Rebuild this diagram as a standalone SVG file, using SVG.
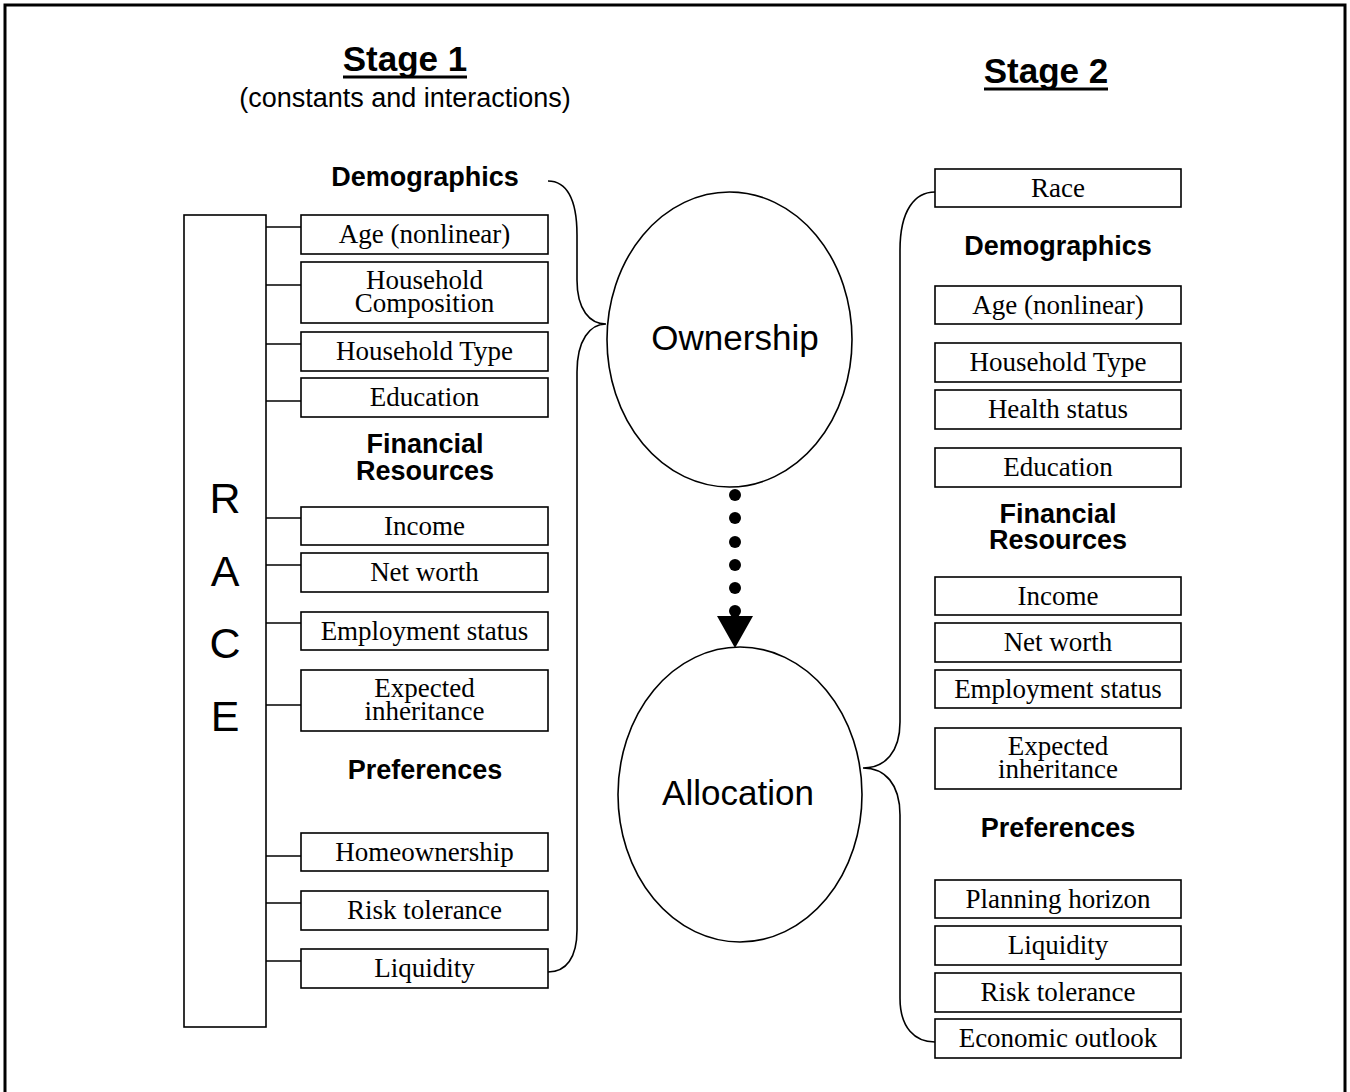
<svg xmlns="http://www.w3.org/2000/svg" width="1350" height="1092" viewBox="0 0 1350 1092">
  <style>
    .box { fill: #fff; stroke: #000; stroke-width: 1.6; }
    .item { font-family: "Liberation Serif", "Times New Roman", serif; font-size: 27px; text-anchor: middle; fill: #000; }
    .head { font-family: "Liberation Sans", Arial, sans-serif; font-size: 27px; font-weight: bold; text-anchor: middle; fill: #000; }
    .stage { font-family: "Liberation Sans", Arial, sans-serif; font-size: 35px; font-weight: bold; text-anchor: middle; fill: #000; }
    .sub { font-family: "Liberation Sans", Arial, sans-serif; font-size: 27px; text-anchor: middle; fill: #000; }
    .big { font-family: "Liberation Sans", Arial, sans-serif; font-size: 35px; text-anchor: middle; fill: #000; }
    .race { font-family: "Liberation Sans", Arial, sans-serif; font-size: 43px; text-anchor: middle; fill: #000; }
    .wire { fill: none; stroke: #000; stroke-width: 1.6; }
    .oval { fill: #fff; stroke: #000; stroke-width: 1.6; }
  </style>

  <!-- outer frame -->
  <rect x="5" y="5" width="1340" height="1090" fill="#fff" stroke="#000" stroke-width="3"/>

  <!-- stage titles -->
  <g id="title-stage1">
    <text class="stage" x="405" y="71">Stage 1</text>
    <line x1="343" y1="77" x2="467" y2="77" stroke="#000" stroke-width="3"/>
    <text class="sub" x="405" y="107">(constants and interactions)</text>
  </g>
  <g id="title-stage2">
    <text class="stage" x="1046" y="83">Stage 2</text>
    <line x1="984" y1="89" x2="1108" y2="89" stroke="#000" stroke-width="3"/>
  </g>

  <!-- connectors: ticks, braces, dotted arrow -->
  <g id="connectors">
    <!-- ticks from the RACE bar to the stage 1 boxes -->
    <g class="wire">
      <line x1="266" y1="227" x2="301" y2="227"/>
      <line x1="266" y1="285" x2="301" y2="285"/>
      <line x1="266" y1="344" x2="301" y2="344"/>
      <line x1="266" y1="401" x2="301" y2="401"/>
      <line x1="266" y1="518" x2="301" y2="518"/>
      <line x1="266" y1="565" x2="301" y2="565"/>
      <line x1="266" y1="623" x2="301" y2="623"/>
      <line x1="266" y1="705" x2="301" y2="705"/>
      <line x1="266" y1="856" x2="301" y2="856"/>
      <line x1="266" y1="903" x2="301" y2="903"/>
      <line x1="266" y1="961" x2="301" y2="961"/>
    </g>
    <!-- stage 1 brace into Ownership -->
    <path class="wire" d="M548,181 C566,181 577,198 577,235 L577,280 C577,310 590,324 606,324 C590,324 577,340 577,372 L577,930 C577,958 566,972 548,972"/>
    <!-- stage 2 brace out of Allocation -->
    <path class="wire" d="M935,192 C915,192 900,210 900,250 L900,722 C900,752 885,768 863,768 C885,768 900,784 900,815 L900,998 C900,1028 915,1042 935,1042"/>
    <!-- dotted arrow Ownership -> Allocation -->
    <g fill="#000">
      <circle cx="735" cy="495" r="6"/>
      <circle cx="735" cy="518" r="6"/>
      <circle cx="735" cy="542" r="6"/>
      <circle cx="735" cy="565" r="6"/>
      <circle cx="735" cy="588" r="6"/>
      <circle cx="735" cy="611" r="6"/>
      <polygon points="717,616 753,616 735,648"/>
    </g>
  </g>

  <!-- RACE bar -->
  <g id="race-bar">
    <rect class="box" x="184" y="215" width="82" height="812"/>
    <text class="race" x="225" y="513">R</text>
    <text class="race" x="225" y="586">A</text>
    <text class="race" x="225" y="658">C</text>
    <text class="race" x="225" y="731">E</text>
  </g>

  <!-- stage 1 headings -->
  <g id="s1-headings">
    <text class="head" x="425" y="186">Demographics</text>
    <text class="head" x="425" y="453">Financial</text>
    <text class="head" x="425" y="480">Resources</text>
    <text class="head" x="425" y="779">Preferences</text>
  </g>

  <!-- stage 1 factor boxes -->
  <g id="s1-age"><rect class="box" x="301" y="215" width="247" height="39"/><text class="item" x="424.5" y="243">Age (nonlinear)</text></g>
  <g id="s1-household-composition"><rect class="box" x="301" y="262" width="247" height="61"/><text class="item" x="424.5" y="289">Household</text><text class="item" x="424.5" y="312">Composition</text></g>
  <g id="s1-household-type"><rect class="box" x="301" y="332" width="247" height="39"/><text class="item" x="424.5" y="360">Household Type</text></g>
  <g id="s1-education"><rect class="box" x="301" y="378" width="247" height="39"/><text class="item" x="424.5" y="406">Education</text></g>
  <g id="s1-income"><rect class="box" x="301" y="507" width="247" height="38"/><text class="item" x="424.5" y="535">Income</text></g>
  <g id="s1-net-worth"><rect class="box" x="301" y="553" width="247" height="39"/><text class="item" x="424.5" y="581">Net worth</text></g>
  <g id="s1-employment"><rect class="box" x="301" y="612" width="247" height="38"/><text class="item" x="424.5" y="640">Employment status</text></g>
  <g id="s1-inheritance"><rect class="box" x="301" y="670" width="247" height="61"/><text class="item" x="424.5" y="697">Expected</text><text class="item" x="424.5" y="720">inheritance</text></g>
  <g id="s1-homeownership"><rect class="box" x="301" y="833" width="247" height="38"/><text class="item" x="424.5" y="861">Homeownership</text></g>
  <g id="s1-risk"><rect class="box" x="301" y="891" width="247" height="39"/><text class="item" x="424.5" y="919">Risk tolerance</text></g>
  <g id="s1-liquidity"><rect class="box" x="301" y="949" width="247" height="39"/><text class="item" x="424.5" y="977">Liquidity</text></g>

  <!-- outcome ovals -->
  <g id="ownership">
    <ellipse class="oval" cx="729.5" cy="339.5" rx="122.5" ry="147.5"/>
    <text class="big" x="735" y="350">Ownership</text>
  </g>
  <g id="allocation">
    <ellipse class="oval" cx="740" cy="794.5" rx="122" ry="147.5"/>
    <text class="big" x="738" y="805">Allocation</text>
  </g>

  <!-- stage 2 headings -->
  <g id="s2-headings">
    <text class="head" x="1058" y="255">Demographics</text>
    <text class="head" x="1058" y="523">Financial</text>
    <text class="head" x="1058" y="549">Resources</text>
    <text class="head" x="1058" y="837">Preferences</text>
  </g>

  <!-- stage 2 factor boxes -->
  <g id="s2-race"><rect class="box" x="935" y="169" width="246" height="38"/><text class="item" x="1058" y="197">Race</text></g>
  <g id="s2-age"><rect class="box" x="935" y="286" width="246" height="38"/><text class="item" x="1058" y="314">Age (nonlinear)</text></g>
  <g id="s2-household-type"><rect class="box" x="935" y="343" width="246" height="39"/><text class="item" x="1058" y="371">Household Type</text></g>
  <g id="s2-health"><rect class="box" x="935" y="390" width="246" height="39"/><text class="item" x="1058" y="418">Health status</text></g>
  <g id="s2-education"><rect class="box" x="935" y="448" width="246" height="39"/><text class="item" x="1058" y="476">Education</text></g>
  <g id="s2-income"><rect class="box" x="935" y="577" width="246" height="38"/><text class="item" x="1058" y="605">Income</text></g>
  <g id="s2-net-worth"><rect class="box" x="935" y="623" width="246" height="39"/><text class="item" x="1058" y="651">Net worth</text></g>
  <g id="s2-employment"><rect class="box" x="935" y="670" width="246" height="38"/><text class="item" x="1058" y="698">Employment status</text></g>
  <g id="s2-inheritance"><rect class="box" x="935" y="728" width="246" height="61"/><text class="item" x="1058" y="755">Expected</text><text class="item" x="1058" y="778">inheritance</text></g>
  <g id="s2-planning"><rect class="box" x="935" y="880" width="246" height="38"/><text class="item" x="1058" y="908">Planning horizon</text></g>
  <g id="s2-liquidity"><rect class="box" x="935" y="926" width="246" height="39"/><text class="item" x="1058" y="954">Liquidity</text></g>
  <g id="s2-risk"><rect class="box" x="935" y="973" width="246" height="39"/><text class="item" x="1058" y="1001">Risk tolerance</text></g>
  <g id="s2-outlook"><rect class="box" x="935" y="1019" width="246" height="39"/><text class="item" x="1058" y="1047">Economic outlook</text></g>
</svg>
